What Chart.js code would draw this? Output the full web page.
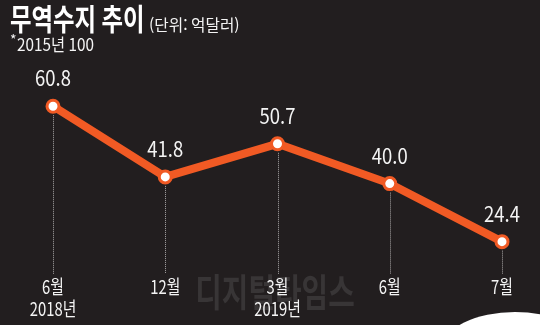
<!DOCTYPE html>
<html lang="ko">
<head>
    <meta charset="UTF-8">
    <title>무역수지 추이</title>
    <script src="https://cdn.jsdelivr.net/npm/chart.js"></script>
    <style>
        body {
            margin: 0;
            background-color: #221e1f;
        }
        .chart-container {
            position: relative;
            width: 540px;
            height: 325px;
        }
    </style>
</head>
<body>
    <div class="chart-container">
        <canvas id="tradeChart"></canvas>
    </div>

    <script>
        const months = ['6월', '12월', '3월', '6월', '7월'];
        const years = ['2018년', '', '2019년', '', ''];
        const balance = [60.8, 41.8, 50.7, 40.0, 24.4];

        const FONT = '"Noto Sans CJK KR", "Noto Sans", sans-serif';
        const ORANGE = '#f15a24';

        // condensed text: squeeze horizontally like the original print font
        function drawText(ctx, s, x, y, size, weight, color, align, sx) {
            ctx.save();
            ctx.font = weight + ' ' + size + 'px ' + FONT;
            ctx.fillStyle = color;
            ctx.textAlign = align;
            ctx.textBaseline = 'middle';
            ctx.translate(x, y);
            ctx.scale(sx, 1);
            ctx.fillText(s, 0, 0);
            ctx.restore();
        }

        const decoPlugin = {
            id: 'deco',
            beforeDraw(chart) {
                const ctx = chart.ctx;
                ctx.save();
                ctx.fillStyle = '#221e1f';
                ctx.fillRect(0, 0, chart.width, chart.height);
                ctx.restore();
                // watermark
                drawText(ctx, '디지털타임스', 275, 292, 38, 'bold', '#383536', 'center', 0.76);
            },
            beforeDatasetsDraw(chart) {
                const ctx = chart.ctx;
                const meta = chart.getDatasetMeta(0);
                const bottom = chart.chartArea.bottom;
                ctx.save();
                ctx.strokeStyle = '#a8a5a5';
                ctx.lineWidth = 1;
                ctx.setLineDash([1, 1]);
                meta.data.forEach(pt => {
                    const x = Math.round(pt.x) + 0.5;
                    ctx.beginPath();
                    ctx.moveTo(x, pt.y + 9);
                    ctx.lineTo(x, bottom);
                    ctx.stroke();
                });
                ctx.restore();
            },
            afterDatasetsDraw(chart) {
                const ctx = chart.ctx;
                const meta = chart.getDatasetMeta(0);
                const xScale = chart.scales.x;
                meta.data.forEach((pt, i) => {
                    drawText(ctx, balance[i].toFixed(1), pt.x, pt.y - 28, 21, 'normal', '#f4f4f4', 'center', 0.88);
                });
                months.forEach((m, i) => {
                    const x = xScale.getPixelForValue(i);
                    drawText(ctx, m, x, 287, 19, 'normal', '#f4f4f4', 'center', 0.78);
                    if (years[i]) {
                        drawText(ctx, years[i], x, 309, 19, 'normal', '#f4f4f4', 'center', 0.78);
                    }
                });
            },
            afterDraw(chart) {
                const ctx = chart.ctx;
                drawText(ctx, '무역수지 추이', 10, 19, 30, 'bold', '#ffffff', 'left', 0.78);
                drawText(ctx, '(단위: 억달러)', 149, 25, 16, 'normal', '#f4f4f4', 'left', 0.98);
                drawText(ctx, '*', 10, 40, 14, 'normal', '#f4f4f4', 'left', 1);
                drawText(ctx, '2015년 100', 17, 45, 17, 'normal', '#f4f4f4', 'left', 0.9);
                // white page corner bottom right
                ctx.save();
                ctx.fillStyle = '#ffffff';
                ctx.beginPath();
                ctx.ellipse(515, 348, 72, 36, 0, 0, Math.PI * 2);
                ctx.fill();
                ctx.restore();
            }
        };

        const ctx = document.getElementById('tradeChart').getContext('2d');
        const tradeChart = new Chart(ctx, {
            type: 'line',
            data: {
                labels: months,
                datasets: [{
                    data: balance,
                    borderColor: ORANGE,
                    borderWidth: 8,
                    tension: 0,
                    fill: false,
                    pointRadius: 6,
                    pointBorderWidth: 3,
                    pointBackgroundColor: '#ffffff',
                    pointBorderColor: ORANGE,
                    clip: false
                }]
            },
            options: {
                responsive: true,
                maintainAspectRatio: false,
                animation: false,
                layout: {
                    padding: { left: 53, right: 38, top: 72, bottom: 51 }
                },
                plugins: {
                    legend: { display: false },
                    tooltip: { enabled: false }
                },
                scales: {
                    x: { display: false, offset: false },
                    y: { display: false, min: 15.7, max: 70 }
                }
            },
            plugins: [decoPlugin]
        });
    </script>
</body>
</html>
